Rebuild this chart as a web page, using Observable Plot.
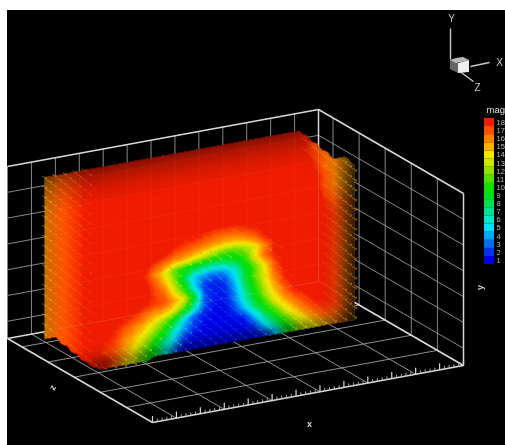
<!DOCTYPE html>
<html><head><meta charset="utf-8">
<script src="https://cdn.jsdelivr.net/npm/d3@7"></script>
<script src="https://cdn.jsdelivr.net/npm/@observablehq/plot@0.6"></script>
<style>
html,body{margin:0;padding:0;background:#fff;width:505px;height:445px;overflow:hidden}
#c{position:absolute;left:7px;top:10px;width:498px;height:435px}
#c svg{display:block;filter:blur(.45px)}
</style></head><body><div id="c"></div>
<script>
const N = null;
// magnitude read along the volume, one row per lattice line, top to bottom
const mag00=[15.5,16.5,17,17.5,18,18.5,19,19,19,19,19,19,19,19,19,19,19,19,19,19,19,19,19,19,19,19,N,N,N,N,N,N];
const mag01=[15.5,16.5,17,17.5,18,18.5,19,19,19,19,19,19,19,19,19,19,19,19,19,19,19,19,19,19,19,19,18,N,N,N,N,N];
const mag02=[15.5,16.5,17,17.5,18,18.5,19,19,19,19,19,19,19,19,19,19,19,19,19,19,19,19,19,19,19,19,18,17,N,N,N,N];
const mag03=[15.5,16.5,17,17.5,18,18.5,19,19,19,19,19,19,19,19,19,19,19,19,19,19,19,19,19,19,19,19,18.5,17.5,16.5,N,N,N];
const mag04=[15.5,16.5,17,17.5,18,18.5,19,19,19,19,19,19,19,19,19,19,19,19,19,19,19,19,19,19,19,19,19,18,16.5,16,15.5,N];
const mag05=[15.5,16.5,17,17.5,18,18.5,19,19,19,19,19,19,19,19,19,19,19,19,19,19,19,19,19,19,19,19,19,18.5,17,16,15.5,15.5];
const mag06=[15.5,16.5,17,17.5,18,18.5,19,19,19,19,19,19,19,19,19,19,19,19,19,19,19,19,19,19,19,19,19,18.5,17,16,15.5,15.5];
const mag07=[15.5,16.5,17,17.5,18,18.5,19,19,19,19,19,19,19,19,19,19,19,19,19,19,19,19,19,19,19,19,19,19,17.5,16.5,16,15.5];
const mag08=[15.5,16.5,17,17.5,18,18.5,19,19,19,19,19,19,19,19,19,19,18.5,18.5,18.5,18.5,18.5,18.5,19,19,19,19,19,19,18,17,16.5,16];
const mag09=[15.5,16.5,17,17.5,18,18.5,19,19,19,19,19,19,19,18.5,18,18,17.5,17,17,17,17.5,18,18.5,19,19,19,19,19,18,17.5,16.5,16];
const mag10=[15.5,16.5,17,17.5,18,18.5,19,19,19,19,19,19,18.5,17.5,17,16.5,16,15.5,15,15,15.5,16.5,18,18.5,19,19,19,19,18,17.5,16.5,16];
const mag11=[15.5,16.5,17,17.5,18,18.5,19,19,19,19,18.5,17.5,16.5,15.5,15,14,13,12,11,11,12,13.5,16,18,18.5,19,19,19,18,17.5,16.5,16];
const mag12=[15.5,16.5,17,17.5,18,18.5,19,19,19,19,18,16,14,11,9.5,8.5,7.5,7,7.5,8.5,10,13.5,16.5,18,18.5,19,19,19,18,17.5,16.5,16];
const mag13=[15.5,16.5,17,17.5,18,18.5,19,19,19,19,18.5,17,15,12,8,4.5,3.5,3,3.5,5.5,8.5,11,14,17,18.5,19,19,19,18,17.5,16.5,16];
const mag14=[15.5,16.5,17,17.5,18,18.5,19,19,19,19,18.5,17.5,16.5,13.5,10,5,2,1.5,2,4.5,8,11,13.5,16.5,18,19,19,19,18,17.5,16.5,16];
const mag15=[15.5,16.5,17,17.5,18,18.5,19,19,19,18.5,18,17.5,17,15.5,13.5,8.5,2.5,1.5,1.5,3.5,7,10,13,15.5,17.5,18.5,19,19,18,17.5,16.5,16];
const mag16=[15.5,16.5,17,17.5,18,18.5,19,18.5,18,17.5,16.5,15.5,15,13.5,10.5,6.5,2.5,1.2,1.2,3,6,9,12,14.5,16.5,18,18.5,19,18,17.5,16.5,16];
const mag17=[N,N,17,17.5,18,18.5,18.5,18,17,16,15,13.5,11.5,9,5,2.5,1.5,1,1,2,4.5,7.5,10,13,15,16.5,17.5,18.5,18,17.5,16.5,16];
const mag18=[N,N,N,17.5,18,18.5,18,17.5,16,15,13.5,11.5,9.5,6,3.5,2,1,1,1,1,1.5,4.5,7.5,10,13,15,16.5,17.5,18,17.5,16.5,16];
const mag19=[N,N,N,N,18,18.5,17.5,17,15.5,14,12,9.5,7,4.5,2,1,1,1,1,1,1,2,5,7.5,10,12.5,14.5,16,17,17,16.5,16];
const mag20=[N,N,N,N,N,18,18.5,17,15,13.5,11,9,6,3,1,1,1,1,1,1,1,1,2,4,8,11,13,14,15,16,16,15.5];
const mag21=[N,N,N,N,N,N,18,16.5,14.5,13,10,N,N,N,N,N,N,N,N,N,N,N,N,N,N,N,N,N,N,N,N,N];
const magRows=[mag00,mag01,mag02,mag03,mag04,mag05,mag06,mag07,mag08,mag09,mag10,mag11,mag12,mag13,mag14,mag15,mag16,mag17,mag18,mag19,mag20,mag21];
const shadeRow=[.45,.25,.12,.05,0,0,0,0,0,0,0,0,0,0,0,0,0,0,0,.1,.4,.4];
const shadeCol=[.25,.1,0,0,0,0,0,0,0,0,0,0,0,0,0,0,0,0,0,0,0,0,0,0,0,0,0,0,.03,.12,.5,.82];

const levels=[1,2,3,4,5,6,7,8,9,10,11,12,13,14,15,16,17,18];
const levelColors=["#0000e8","#0030f0","#0070f0","#00a8f8","#00e0f8","#00e8c8","#00e090","#00e050","#00e018","#10e000","#50e000","#90e000","#c8e800","#f8e800","#ffb000","#ff8000","#ff5000","#f01c00"];

// box axes, as fractions of each side
const xGrid=d3.range(0,14).map(k=>k/13);
const xFloor=d3.range(1,14,2).map(k=>k/13);
const xMinor=d3.range(0,65).map(k=>k/65).filter(v=>!xGrid.some(g=>Math.abs(g-v)<1e-6));
const yGrid=[.1,.25,.4,.55,.7,.85];
const zGrid=[.18,.36,.54,.72,.9];

// orthographic view of the box, in picture units
const O=[152,422],X=[311,-57],Y=[0,-172],Z=[-145,-84];
const P=(x,y,z)=>[O[0]+x*X[0]+y*Y[0]+z*Z[0],O[1]+x*X[1]+y*Y[1]+z*Z[1]];
const seg=(a,b)=>({a:P(...a),b:P(...b)});
const floorGrid=[...xFloor.map(v=>seg([v,0,0],[v,0,1])),...zGrid.map(v=>seg([0,0,v],[1,0,v]))];
const wallGrid=[...xGrid.map(v=>seg([v,0,1],[v,1,1])),...yGrid.map(v=>seg([0,v,1],[1,v,1])),
  ...zGrid.map(v=>seg([1,0,v],[1,1,v])),...yGrid.map(v=>seg([1,v,0],[1,v,1]))];
const frame=[seg([0,0,0],[1,0,0]),seg([0,0,0],[0,0,1]),seg([1,0,0],[1,0,1]),seg([0,0,1],[1,0,1]),
  seg([1,0,0],[1,1,0]),seg([1,0,1],[1,1,1]),seg([0,1,1],[1,1,1]),seg([1,1,0],[1,1,1])];
const majorTicks=xGrid.map(v=>seg([v,0,0],[v,.038,0]));
const minorTicks=xMinor.map(v=>seg([v,0,0],[v,.018,0]));

// lattice carrying the magnitude samples
const SHEAR=.183;
const latX=c=>44+10*c, latW=r=>r<=20?177+9.8*r:373+6*(r-20), latY=(r,c)=>latW(r)-SHEAR*(latX(c)-44);
const pts=[];
magRows.forEach((row,r)=>row.forEach((m,c)=>{ if(m!==null) pts.push({x:latX(c),y:latY(r,c),m,r,c}); }));
const arrows=[...pts,...pts.filter(d=>d.r<20&&d.c<31&&magRows[d.r+1][d.c+1]!==null).map(d=>({x:d.x+5,y:d.y+4,m:d.m,c:d.c}))];

// shading of the field between lattice lines (display only)
function sampleAt(x,y,value){
  const cf=(x-44)/10, w=y+SHEAR*(x-44), rf=w<=373?(w-177)/9.8:20+(w-373)/6;
  if(cf<0||cf>31||rf<0||rf>21) return NaN;
  const c0=Math.min(30,Math.floor(cf)), r0=Math.min(20,Math.floor(rf)), u=cf-c0, v=rf-r0;
  let sw=0,sv=0;
  for(const [r,c,wt] of [[r0,c0,(1-u)*(1-v)],[r0,c0+1,u*(1-v)],[r0+1,c0,(1-u)*v],[r0+1,c0+1,u*v]]){
    const m=magRows[r][c];
    if(m!==null&&wt>0){sw+=wt;sv+=wt*value(r,c,m);}
  }
  return sw<.5?NaN:sv/sw;
}
const magAt=(x,y)=>sampleAt(x,y,(r,c,m)=>m);
const shadeAt=(x,y)=>sampleAt(x,y,(r,c)=>1-(1-shadeRow[r])*(1-shadeCol[c]));

// orientation triad
const triadLines=[{a:[450,28],b:[450,59]},{a:[470,66],b:[489,62]},{a:[458,70],b:[473,81]}];
const triadText=[{t:"Y",x:451,y:18},{t:"X",x:499,y:62},{t:"Z",x:477,y:87}];
const cubeLeft={x:[450,458],y1:[60,63],y2:[69,73]};
const cubeFront={x:[458,469],y1:[63,60],y2:[73,72]};
const cubeTop={x:[450,456,463,469],y1:[60,58,57,60],y2:[60,63,61.5,60]};
const area=(f,fill)=>Plot.areaY(f.x.map((x,i)=>({x,a:f.y1[i],b:f.y2[i]})),{x:"x",y1:"a",y2:"b",fill});
const links=(data,stroke,strokeWidth,strokeOpacity=1)=>Plot.link(data,{x1:d=>d.a[0],y1:d=>d.a[1],x2:d=>d.b[0],y2:d=>d.b[1],stroke,strokeWidth,strokeOpacity});

const legY=l=>122+(18-l)*8.12;
const white="#d8d8d8";
const box={x1:7,x2:505,y1:10,y2:445};
const chart=Plot.plot({
  width:498,height:435,margin:0,
  x:{domain:[7,505],range:[0,498],axis:null},
  y:{domain:[10,445],range:[0,435],axis:null},
  color:{type:"linear",domain:[...levels],range:levelColors,clamp:true},
  opacity:{type:"linear",domain:[0,1],range:[0,1]},
  style:{background:"#000",fontFamily:"'Liberation Sans',Arial,sans-serif"},
  marks:[
    links(wallGrid,"#909090",.9),
    links(floorGrid,"#a0a0a0",.9),
    links(frame,white,1.5),
    links(majorTicks,white,1.2),
    links(minorTicks,"#bbb",.9),
    Plot.raster({...box,fill:magAt,pixelSize:1}),
    Plot.raster({...box,fill:"black",fillOpacity:shadeAt,pixelSize:1}),
    Plot.vector(arrows.filter(d=>d.m<18.5||d.c>=29),{x:"x",y:"y",length:5,rotate:118,anchor:"middle",
      stroke:d=>d.m>=14?d.m-.8:d.m+1.5,strokeWidth:.9,strokeOpacity:.5}),
    links(frame,white,1,.14),
    links(wallGrid,"#ffffff",.8,.06),
    // legend
    Plot.rect(levels,{x1:()=>484,x2:()=>494,y1:d=>legY(d)-4.06,y2:d=>legY(d)+4.06,fill:d=>d}),
    Plot.text(levels,{x:()=>496,y:legY,text:d=>String(d),textAnchor:"start",fill:"#b8b8b8",fontSize:7.5}),
    Plot.text(["mag"],{x:()=>486,y:()=>109,textAnchor:"start",fill:"#e0e0e0",fontSize:9.5}),
    // axis names
    Plot.text(["x"],{x:()=>309,y:()=>424,fill:white,fontSize:9,fontWeight:"bold"}),
    Plot.text(["z"],{x:()=>52,y:()=>387,rotate:-60,fill:white,fontSize:9,fontWeight:"bold"}),
    Plot.text(["y"],{x:()=>480,y:()=>287,rotate:-90,fill:white,fontSize:9,fontWeight:"bold"}),
    // triad
    links(triadLines,"#c8c8c8",1.4),
    area(cubeLeft,"#666"),area(cubeFront,"#eee"),area(cubeTop,"#bbb"),
    Plot.text(triadText,{x:"x",y:"y",text:"t",fill:"#c8c8c8",fontSize:10})
  ]
});
document.getElementById("c").appendChild(chart);
</script></body></html>
